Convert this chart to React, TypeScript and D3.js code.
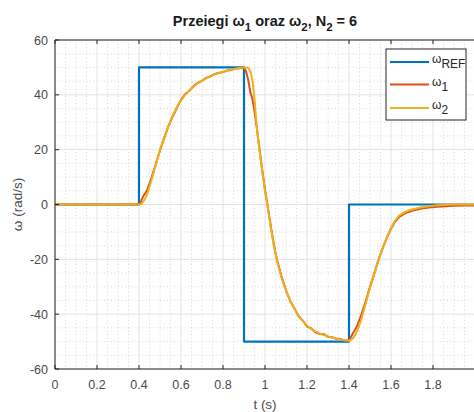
import React from 'react';
import * as d3 from 'd3';

// reference step signal
const tRef = [0, 0.4, 0.4, 0.9, 0.9, 1.4, 1.4, 2.0];
const omegaRef = [0, 0, 50, 50, -50, -50, 0, 0];

// simulation time samples (s)
const tSim = [
  0, 0.4, 0.41, 0.42, 0.43, 0.44, 0.46, 0.48, 0.5, 0.52, 0.54, 0.56, 0.58, 0.6, 0.62, 0.64, 0.66, 0.68,
  0.7, 0.72, 0.74, 0.76, 0.78, 0.8, 0.82, 0.84, 0.86, 0.88, 0.9, 0.91, 0.92, 0.93, 0.94, 0.95, 0.96,
  0.97, 0.98, 0.99, 1.0, 1.01, 1.02, 1.03, 1.04, 1.05, 1.06, 1.08, 1.1, 1.12, 1.14, 1.16, 1.18, 1.2,
  1.22, 1.24, 1.26, 1.28, 1.3, 1.32, 1.34, 1.36, 1.38, 1.4, 1.41, 1.42, 1.43, 1.44, 1.46, 1.48, 1.5,
  1.52, 1.54, 1.56, 1.58, 1.6, 1.62, 1.64, 1.66, 1.68, 1.7, 1.74, 1.78, 1.82, 1.86, 1.9, 1.95, 2.0,
];

const omega1 = [
  0, 0, 1.2, 3, 4.2, 5.5, 9.8, 14.8, 19.8, 24.2, 28.6, 32, 35.2, 38.2, 40.3, 41.5, 43.2, 44.4,
  45.1, 46.2, 46.7, 47.6, 48, 48.3, 48.9, 49.1, 49.6, 49.7, 49.9, 48.5, 45.5, 41, 38.5, 34, 28.5,
  22.5, 16.5, 10.8, 5.5, 0.8, -4.2, -9, -13.5, -17.8, -21, -26.6, -31.3, -35.2, -37.8, -40.8, -42.3, -44.5,
  -45.2, -46.6, -47.2, -47.3, -48.3, -48.4, -49, -49.1, -49.6, -49.5, -48.2, -46.8, -45.6, -44, -40, -35.2, -30,
  -25.2, -20.3, -16, -12.2, -8.8, -6.2, -4.5, -3.5, -2.8, -2.3, -1.6, -1.1, -0.8, -0.6, -0.5, -0.4, -0.4,
];

const omega2 = [
  0, 0, 0.2, 1, 2.3, 4, 9, 14.5, 20, 24.5, 28.5, 32.3, 35.5, 38, 40, 41.7, 43, 44.2,
  45.2, 46, 46.8, 47.4, 47.9, 48.4, 48.8, 49.2, 49.5, 49.8, 50, 50, 49.9, 48.8, 45.5, 38.5, 29,
  22, 16, 10.5, 5, 0.5, -4.5, -9.5, -14, -18, -21.5, -27, -31.5, -35, -38, -40.5, -42.5, -44.2,
  -45.4, -46.3, -47, -47.6, -48.1, -48.5, -48.9, -49.2, -49.5, -49.7, -49.4, -48.6, -47.5, -46, -41.5, -36, -30.5,
  -25.5, -20.5, -16, -12, -8.5, -5.8, -4, -3, -2.3, -1.8, -1.1, -0.6, -0.3, -0.1, 0, 0, 0,
];

const xTicks = [0, 0.2, 0.4, 0.6, 0.8, 1, 1.2, 1.4, 1.6, 1.8];
const yTicks = [-60, -40, -20, 0, 20, 40, 60];

const W = 474;
const H = 412;
const font = 'Liberation Sans, Arial, Helvetica, sans-serif';

export default function App() {
  const x = d3.scaleLinear().domain([0, 2]).range([55, 475]);
  const y = d3.scaleLinear().domain([-60, 60]).range([369, 40]);

  const line = d3.line<[number, number]>()
    .x(d => x(d[0]))
    .y(d => y(d[1]));

  const refPts = tRef.map((t, i) => [t, omegaRef[i]] as [number, number]);
  const w1Pts = tSim.map((t, i) => [t, omega1[i]] as [number, number]);
  const w2Pts = tSim.map((t, i) => [t, omega2[i]] as [number, number]);

  const xMinor = d3.range(0, 2.0001, 0.05).filter(v => Math.abs(v / 0.2 - Math.round(v / 0.2)) > 1e-6);
  const yMinor = d3.range(-60, 60.001, 5).filter(v => v % 20 !== 0);

  const [x0, x1] = x.range();
  const [y0, y1] = [y(-60), y(60)];

  const series = [
    { label: 'REF', color: '#0072BD', w: 2.2 },
    { label: '1', color: '#D95319', w: 2 },
    { label: '2', color: '#EDB120', w: 2 },
  ];
  const legendY = [62, 84.5, 108];

  return (
    <svg width={W} height={H} style={{ position: 'absolute', left: 0, top: 0, background: '#fff' }}
      fontFamily={font}>
      <defs>
        <clipPath id="plotClip">
          <rect x={x0} y={y1} width={x1 - x0} height={y0 - y1} />
        </clipPath>
      </defs>
      <rect x={0} y={0} width={W} height={H} fill="#fff" />

      {/* minor grid */}
      <g stroke="#cfcfcf" strokeWidth={0.8} strokeDasharray="1,2.5">
        {xMinor.map(v => <line key={'xm' + v} x1={x(v)} x2={x(v)} y1={y1} y2={y0} />)}
        {yMinor.map(v => <line key={'ym' + v} x1={x0} x2={x1} y1={y(v)} y2={y(v)} />)}
      </g>
      {/* major grid */}
      <g stroke="#e3e3e3" strokeWidth={1}>
        {xTicks.map(v => <line key={'xg' + v} x1={x(v)} x2={x(v)} y1={y1} y2={y0} />)}
        {yTicks.map(v => <line key={'yg' + v} x1={x0} x2={x1} y1={y(v)} y2={y(v)} />)}
      </g>

      <g clipPath="url(#plotClip)" fill="none" strokeLinejoin="round">
        <path d={line(refPts) || ''} stroke={series[0].color} strokeWidth={series[0].w} />
        <path d={line(w1Pts) || ''} stroke={series[1].color} strokeWidth={series[1].w} />
        <path d={line(w2Pts) || ''} stroke={series[2].color} strokeWidth={series[2].w} />
      </g>

      {/* axes box */}
      <g stroke="#262626" strokeWidth={1} fill="none">
        <line x1={x0} x2={x0} y1={y1} y2={y0} />
        <line x1={x0} x2={x1} y1={y0} y2={y0} />
        <line x1={x0} x2={x1} y1={y1} y2={y1} />
        {xTicks.map(v => (
          <g key={'xt' + v}>
            <line x1={x(v)} x2={x(v)} y1={y0} y2={y0 - 4} />
            <line x1={x(v)} x2={x(v)} y1={y1} y2={y1 + 4} />
          </g>
        ))}
        {yTicks.map(v => <line key={'yt' + v} x1={x0} x2={x0 + 4} y1={y(v)} y2={y(v)} />)}
      </g>

      {/* tick labels */}
      <g fill="#4a4a4a" fontSize={12.5}>
        {xTicks.map(v => (
          <text key={'xl' + v} x={x(v)} y={388.5} textAnchor="middle">{String(v)}</text>
        ))}
        {yTicks.map(v => (
          <text key={'yl' + v} x={48} y={y(v) + 4.5} textAnchor="end">{String(v)}</text>
        ))}
      </g>

      {/* axis labels */}
      <text x={265} y={409} textAnchor="middle" fontSize={13.5} fill="#4a4a4a">t (s)</text>
      <text transform={`translate(22,${y(0)}) rotate(-90)`} textAnchor="middle" fontSize={13.5} fill="#4a4a4a">
        ω (rad/s)
      </text>

      {/* title */}
      <text x={265} y={26} textAnchor="middle" fontSize={14.5} fontWeight="bold" fill="#1a1a1a">
        Przeiegi ω<tspan dy={5} fontSize={11.5}>1</tspan>
        <tspan dy={-5}> oraz ω</tspan><tspan dy={5} fontSize={11.5}>2</tspan>
        <tspan dy={-5}>, N</tspan><tspan dy={5} fontSize={11.5}>2</tspan>
        <tspan dy={-5}> = 6</tspan>
      </text>

      {/* legend */}
      <rect x={386} y={49} width={80} height={71} fill="#fff" stroke="#262626" strokeWidth={1} />
      {series.map((s, i) => (
        <g key={s.label}>
          <line x1={390} x2={429} y1={legendY[i]} y2={legendY[i]} stroke={s.color} strokeWidth={s.w} />
          <text x={432} y={legendY[i] + 1} fontSize={12} fill="#262626">
            ω<tspan dy={5} fontSize={12}>{s.label}</tspan>
          </text>
        </g>
      ))}
    </svg>
  );
}
